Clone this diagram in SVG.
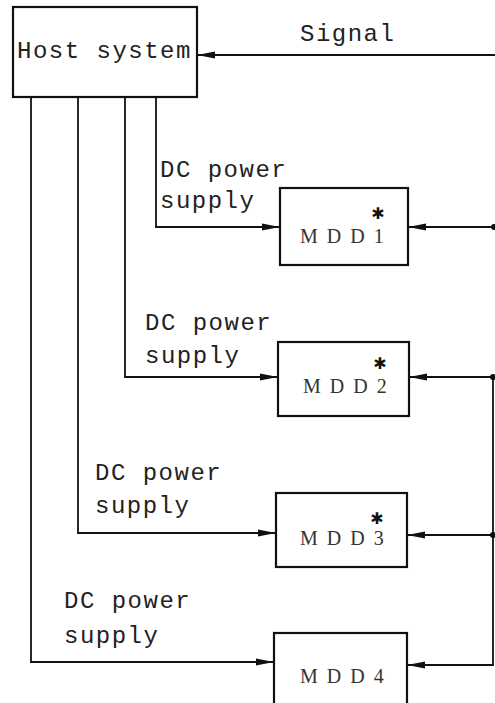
<svg xmlns="http://www.w3.org/2000/svg" width="495" height="703" viewBox="0 0 495 703">
<style>
.box{fill:#fff;stroke:#111;stroke-width:2.2}
.ln{fill:none;stroke:#111;stroke-width:1.8}
.mono{font-family:"Liberation Mono","Courier New",monospace;font-size:24px;letter-spacing:1.5px;fill:#222}
.mdd{font-family:"Liberation Serif","Times New Roman",serif;font-size:20px;letter-spacing:9px;fill:#333}
.star{font-family:"DejaVu Sans",sans-serif;font-size:16px;fill:#111}
</style>
<defs>
<marker id="ah" viewBox="0 0 18 10" refX="18" refY="5" markerWidth="18" markerHeight="10" markerUnits="userSpaceOnUse" orient="auto">
<path d="M0,1.5 L18,5 L0,8.5 Z" fill="#111"/>
</marker>
</defs>
<g id="connectors">
<path class="ln" d="M495,55 L197,55" marker-end="url(#ah)"/>
<path class="ln" d="M156,97 L156,227 L280,227" marker-end="url(#ah)"/>
<path class="ln" d="M125,97 L125,377 L278,377" marker-end="url(#ah)"/>
<path class="ln" d="M78,97 L78,533 L276,533" marker-end="url(#ah)"/>
<path class="ln" d="M31,97 L31,662 L274,662" marker-end="url(#ah)"/>
<path class="ln" d="M495,227 L408,227" marker-end="url(#ah)"/>
<path class="ln" d="M494,377 L409,377" marker-end="url(#ah)"/>
<path class="ln" d="M494,535 L407,535" marker-end="url(#ah)"/>
<path class="ln" d="M493,377 L493,665 L407,665" marker-end="url(#ah)"/>
<circle cx="494" cy="227" r="3" fill="#111"/>
<circle cx="493" cy="377" r="3" fill="#111"/>
<circle cx="493" cy="535" r="3" fill="#111"/>
<text class="mono" x="300" y="41">Signal</text>
<text class="mono" x="160" y="177">DC power</text>
<text class="mono" x="160" y="208">supply</text>
<text class="mono" x="145" y="330">DC power</text>
<text class="mono" x="145" y="363">supply</text>
<text class="mono" x="95" y="480">DC power</text>
<text class="mono" x="95" y="513">supply</text>
<text class="mono" x="64" y="608">DC power</text>
<text class="mono" x="64" y="643">supply</text>
</g>
<g id="host">
<rect class="box" x="13" y="7" width="184" height="90"/>
<text class="mono" x="17" y="58">Host system</text>
</g>
<g id="mdd1">
<rect class="box" x="280" y="188" width="128" height="77"/>
<text class="mdd" x="300" y="243">MDD1</text>
<text class="star" x="378" y="219" text-anchor="middle">✱</text>
</g>
<g id="mdd2">
<rect class="box" x="278" y="342" width="131" height="74"/>
<text class="mdd" x="303" y="393">MDD2</text>
<text class="star" x="380" y="369" text-anchor="middle">✱</text>
</g>
<g id="mdd3">
<rect class="box" x="276" y="493" width="131" height="74"/>
<text class="mdd" x="300" y="545">MDD3</text>
<text class="star" x="377" y="524" text-anchor="middle">✱</text>
</g>
<g id="mdd4">
<rect class="box" x="274" y="633" width="133" height="90"/>
<text class="mdd" x="300" y="683">MDD4</text>
</g>
</svg>
